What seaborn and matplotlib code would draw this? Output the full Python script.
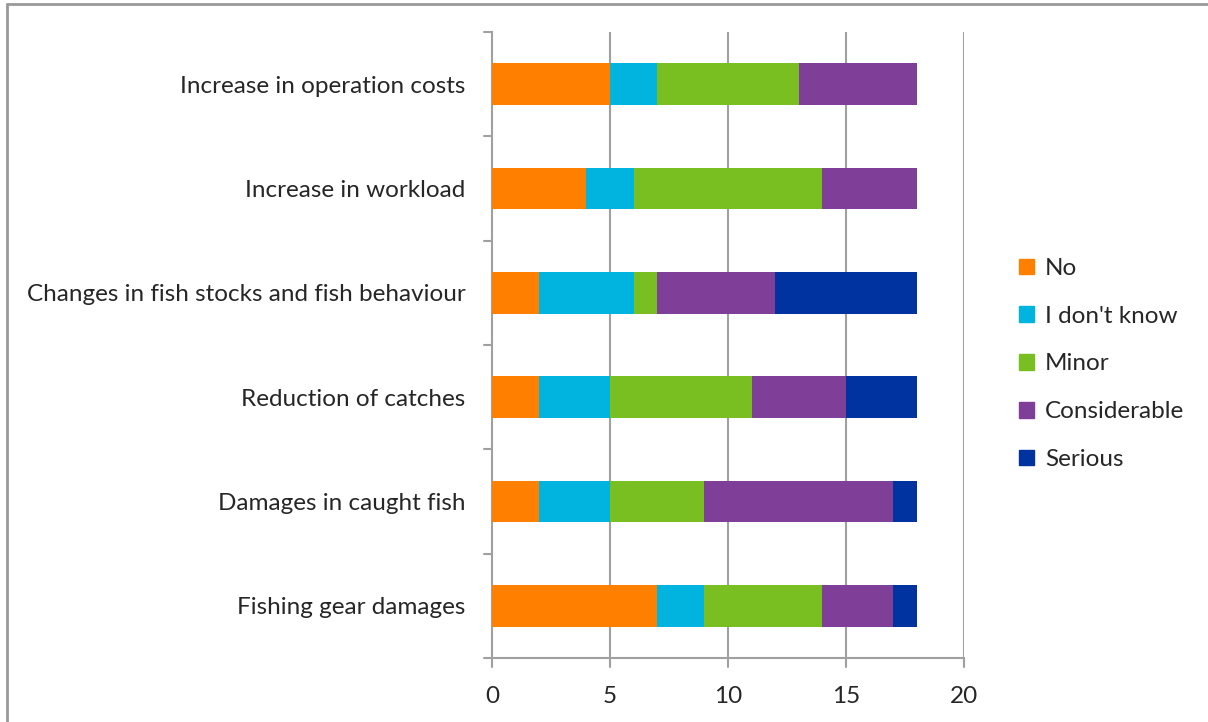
import matplotlib
matplotlib.use("Agg")
import matplotlib.pyplot as plt
import seaborn as sns
import numpy as np
import pandas as pd
from matplotlib.patches import Rectangle
from matplotlib.lines import Line2D

categories = ["Increase in operation costs", "Increase in workload",
              "Changes in fish stocks and fish behaviour", "Reduction of catches",
              "Damages in caught fish", "Fishing gear damages"]
series_names = ["No", "I don't know", "Minor", "Considerable", "Serious"]
no_vals = [5, 4, 2, 2, 2, 7]
idk_vals = [2, 2, 4, 3, 3, 2]
minor_vals = [6, 8, 1, 6, 4, 5]
consid_vals = [5, 4, 5, 4, 8, 3]
serious_vals = [0, 0, 6, 3, 1, 1]
colors = ["#FF8000", "#00B4E0", "#7ABF22", "#7F3F98", "#0033A0"]
x_ticks = [0, 5, 10, 15, 20]

sns.set_theme(style="white")
plt.rcParams['font.family'] = ['Lato', 'DejaVu Sans']

fig = plt.figure(figsize=(12.08, 7.22), dpi=100)
ax = fig.add_axes([492/1208, 1 - 658/722, (964-492)/1208, (658-32)/722])

vals = np.array([no_vals, idk_vals, minor_vals, consid_vals, serious_vals], dtype=float)
cum = np.cumsum(vals, axis=0)
for i in range(len(series_names) - 1, -1, -1):
    df = pd.DataFrame({"cat": categories, "val": cum[i]})
    sns.barplot(data=df, x="val", y="cat", orient="h", color=colors[i],
                width=0.4, ax=ax, saturation=1, linewidth=0, zorder=3)

fs = 17.5
ax.set_xlim(0, 20)
ax.set_ylim(len(categories) - 0.5, -0.5)
ax.set_xticks(x_ticks)
ax.set_xticklabels([str(t) for t in x_ticks], fontsize=fs)
ax.set_yticks(range(len(categories)))
ax.set_yticklabels(categories, fontsize=fs)
ax.tick_params(axis='y', length=0, pad=19)
ax.tick_params(axis='x', length=0, pad=20)
ax.set_xlabel("")
ax.set_ylabel("")
for s in ["top", "right"]:
    ax.spines[s].set_visible(False)
ax.spines["left"].set_color("#A0A0A0")
ax.spines["bottom"].set_color("#A0A0A0")
ax.spines["left"].set_linewidth(1.5)
ax.spines["bottom"].set_linewidth(1.5)
for t in x_ticks[1:]:
    ax.axvline(t, color="#A0A0A0", lw=1.5, zorder=1)
for b in np.arange(-0.5, len(categories) + 0.5, 1.0):
    ax.plot([-0.34, 0], [b, b], color="#A0A0A0", lw=1.5, clip_on=False, zorder=2)
for t in x_ticks:
    ax.plot([t, t], [len(categories) - 0.5, len(categories) - 0.5 + 0.085],
            color="#A0A0A0", lw=1.5, clip_on=False, zorder=2)

handles = [Rectangle((0, 0), 1, 1, color=c) for c in colors]
leg = fig.legend(handles, series_names, loc="center left",
                 bbox_to_anchor=(997/1208, 1 - 364/722), frameon=False,
                 fontsize=fs, handlelength=0.62, handleheight=0.62,
                 labelspacing=1.1, handletextpad=0.45)

fig.lines.append(Line2D([7/1208, 7/1208], [0, 1 - 4/722], transform=fig.transFigure,
                        color="#999999", lw=2))
fig.lines.append(Line2D([7/1208, 1], [1 - 4/722, 1 - 4/722], transform=fig.transFigure,
                        color="#999999", lw=2))

fig.savefig("out.png", dpi=100)
